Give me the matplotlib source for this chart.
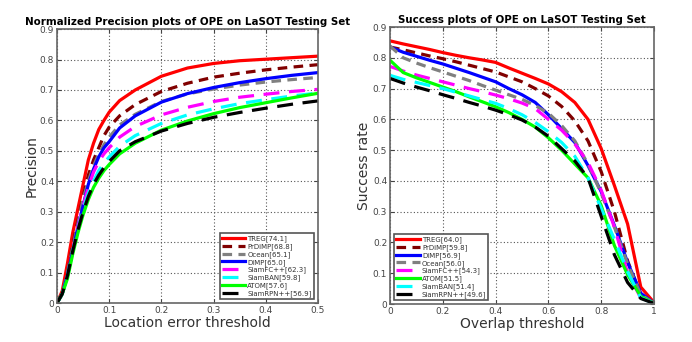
import numpy as np
import matplotlib
matplotlib.use('Agg')
import matplotlib.pyplot as plt

# ---- precision data (location error threshold) ----
thr = [0, 0.01, 0.02, 0.03, 0.04, 0.05, 0.06, 0.07, 0.08, 0.09, 0.1,
       0.12, 0.15, 0.2, 0.25, 0.3, 0.35, 0.4, 0.45, 0.5]
prec = {
    'TREG[74.1]':      [0, 0.04, 0.13, 0.23, 0.31, 0.39, 0.47, 0.525, 0.57, 0.60, 0.627, 0.665, 0.70, 0.745, 0.772, 0.787, 0.796, 0.801, 0.806, 0.811],
    'PrDiMP[68.8]':    [0, 0.03, 0.10, 0.19, 0.27, 0.35, 0.42, 0.47, 0.51, 0.55, 0.578, 0.615, 0.652, 0.695, 0.722, 0.742, 0.755, 0.766, 0.775, 0.783],
    'Ocean[65.1]':     [0, 0.03, 0.10, 0.18, 0.26, 0.34, 0.40, 0.45, 0.49, 0.52, 0.545, 0.585, 0.62, 0.662, 0.687, 0.703, 0.716, 0.726, 0.734, 0.741],
    'DiMP[65.0]':      [0, 0.03, 0.09, 0.17, 0.25, 0.32, 0.39, 0.44, 0.48, 0.51, 0.53, 0.575, 0.615, 0.66, 0.688, 0.708, 0.724, 0.737, 0.748, 0.757],
    'SiamFC++[62.3]':  [0, 0.03, 0.09, 0.17, 0.25, 0.32, 0.38, 0.43, 0.465, 0.49, 0.51, 0.545, 0.58, 0.618, 0.643, 0.662, 0.676, 0.686, 0.695, 0.702],
    'SiamBAN[59.8]':   [0, 0.03, 0.09, 0.17, 0.24, 0.31, 0.36, 0.40, 0.435, 0.46, 0.48, 0.515, 0.55, 0.59, 0.618, 0.638, 0.655, 0.668, 0.68, 0.69],
    'ATOM[57.6]':      [0, 0.03, 0.08, 0.16, 0.23, 0.29, 0.34, 0.38, 0.41, 0.435, 0.455, 0.49, 0.525, 0.568, 0.598, 0.622, 0.642, 0.658, 0.674, 0.689],
    'SiamRPN++[56.9]': [0, 0.03, 0.09, 0.17, 0.24, 0.30, 0.35, 0.39, 0.42, 0.445, 0.465, 0.50, 0.53, 0.565, 0.59, 0.61, 0.626, 0.64, 0.653, 0.664],
}

# ---- success data (overlap threshold) ----
ovl = [0, 0.05, 0.1, 0.15, 0.2, 0.25, 0.3, 0.35, 0.4, 0.45, 0.5,
       0.55, 0.6, 0.65, 0.7, 0.75, 0.8, 0.85, 0.9, 0.95, 1.0]
succ = {
    'TREG[64.0]':      [0.855, 0.845, 0.836, 0.827, 0.817, 0.808, 0.800, 0.793, 0.785, 0.767, 0.750, 0.733, 0.715, 0.690, 0.655, 0.600, 0.505, 0.385, 0.26, 0.055, 0.005],
    'PrDiMP[59.8]':    [0.835, 0.826, 0.816, 0.806, 0.797, 0.787, 0.776, 0.765, 0.754, 0.738, 0.722, 0.700, 0.676, 0.642, 0.595, 0.53, 0.43, 0.30, 0.14, 0.03, 0.003],
    'DiMP[56.9]':      [0.835, 0.818, 0.805, 0.792, 0.78, 0.766, 0.752, 0.737, 0.722, 0.70, 0.68, 0.655, 0.615, 0.57, 0.525, 0.45, 0.365, 0.255, 0.135, 0.035, 0.003],
    'Ocean[56.0]':     [0.838, 0.80, 0.783, 0.768, 0.754, 0.74, 0.726, 0.71, 0.695, 0.68, 0.665, 0.645, 0.62, 0.58, 0.53, 0.455, 0.36, 0.25, 0.13, 0.03, 0.003],
    'SiamFC++[54.3]':  [0.772, 0.757, 0.744, 0.733, 0.722, 0.711, 0.70, 0.69, 0.679, 0.667, 0.653, 0.635, 0.60, 0.565, 0.52, 0.46, 0.37, 0.25, 0.10, 0.02, 0.002],
    'ATOM[51.5]':      [0.792, 0.752, 0.735, 0.72, 0.705, 0.69, 0.673, 0.657, 0.641, 0.622, 0.60, 0.575, 0.54, 0.50, 0.455, 0.41, 0.32, 0.19, 0.095, 0.025, 0.002],
    'SiamBAN[51.4]':   [0.743, 0.73, 0.72, 0.71, 0.70, 0.688, 0.676, 0.664, 0.652, 0.635, 0.615, 0.59, 0.56, 0.525, 0.48, 0.41, 0.31, 0.21, 0.105, 0.02, 0.002],
    'SiamRPN++[49.6]': [0.733, 0.718, 0.705, 0.693, 0.68, 0.668, 0.655, 0.643, 0.63, 0.615, 0.598, 0.575, 0.545, 0.505, 0.465, 0.41, 0.285, 0.16, 0.07, 0.018, 0.002],
}

# style per tracker name: color, dash pattern (None = solid)
style = {
    'TREG':      ('#ff0000', None),
    'PrDiMP':    ('#800000', (3, 2)),
    'Ocean':     ('#808080', (3, 2)),
    'DiMP':      ('#0000ff', None),
    'SiamFC++':  ('#ff00ff', (5, 3)),
    'SiamBAN':   ('#00ffff', (5, 3)),
    'ATOM':      ('#00ff00', None),
    'SiamRPN++': ('#000000', (5, 3)),
}

fig = plt.figure(figsize=(6.92, 3.42), dpi=100)
ax1 = fig.add_axes([0.0824, 0.114, 0.377, 0.801])
ax2 = fig.add_axes([0.5636, 0.111, 0.3815, 0.810])


def draw(ax, x, data):
    for name, y in data.items():
        c, d = style[name.split('[')[0]]
        ln, = ax.plot(x, y, color=c, lw=2.3, label=name)
        if d is not None:
            ln.set_dashes(d)


def decorate(ax, title, xlabel, ylabel, xticks, xlim, loc):
    ax.set_xlim(xlim)
    ax.set_ylim(0, 0.9)
    ax.set_xticks(xticks)
    ax.set_yticks(np.arange(0, 0.91, 0.1))
    ax.set_xticklabels(['0' if v == 0 else ('1' if v == 1 else '%g' % v) for v in xticks])
    ax.set_yticklabels(['0'] + ['%.1f' % v for v in np.arange(0.1, 0.91, 0.1)])
    ax.grid(True, color='#555555', linestyle=(0, (1, 2)), linewidth=0.8)
    ax.tick_params(direction='in', top=True, right=True, labelsize=6.5,
                   colors='#444444', length=3, width=0.8, pad=2)
    for s in ax.spines.values():
        s.set_color('#666666')
        s.set_linewidth(1.2)
    ax.set_title(title, fontsize=7.4, fontweight='bold', pad=3)
    ax.set_xlabel(xlabel, fontsize=10, color='#333333', labelpad=1)
    ax.set_ylabel(ylabel, fontsize=10, color='#333333', labelpad=1)
    leg = ax.legend(loc=loc, fontsize=5, handlelength=3.4, handletextpad=0.3,
                    labelspacing=0.15, borderpad=0.3, fancybox=False,
                    framealpha=1, borderaxespad=0.6)
    leg.get_frame().set_edgecolor('#555555')
    leg.get_frame().set_linewidth(1.2)
    for t in leg.get_texts():
        t.set_color('#333333')


draw(ax1, thr, prec)
decorate(ax1, 'Normalized Precision plots of OPE on LaSOT Testing Set',
         'Location error threshold', 'Precision',
         [0, 0.1, 0.2, 0.3, 0.4, 0.5], (0, 0.5), 'lower right')

draw(ax2, ovl, succ)
decorate(ax2, 'Success plots of OPE on LaSOT Testing Set',
         'Overlap threshold', 'Success rate',
         [0, 0.2, 0.4, 0.6, 0.8, 1.0], (0, 1), 'lower left')

fig.savefig('out.png', dpi=100)
